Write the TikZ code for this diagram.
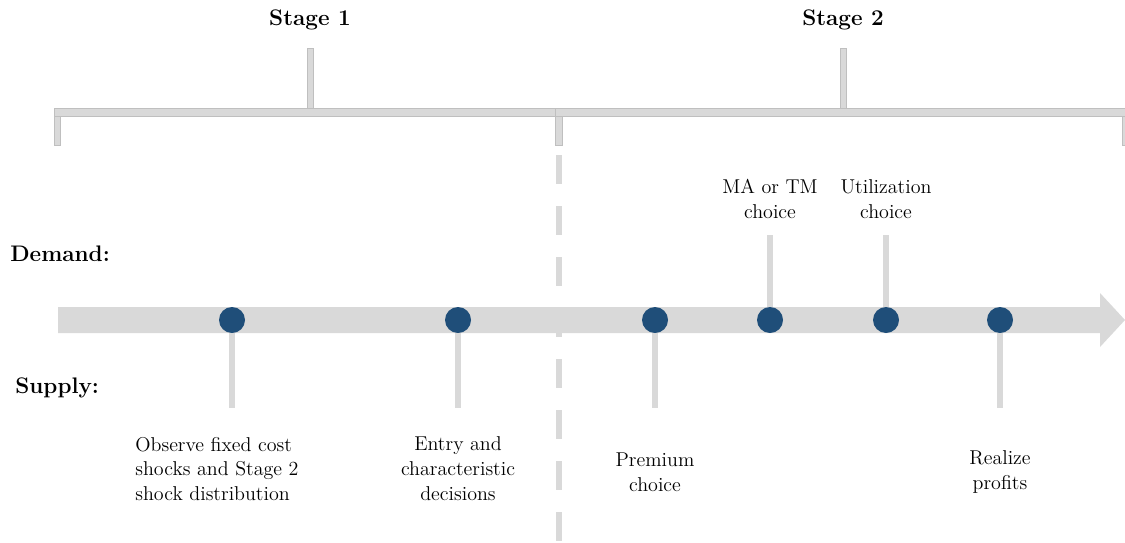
\documentclass[tikz,border=0pt]{standalone}
\definecolor{bargray}{HTML}{D9D9D9}
\definecolor{edgegray}{HTML}{BFBFBF}
\definecolor{dotblue}{HTML}{1F4E79}

\begin{document}
\begin{tikzpicture}[
    font=\fontsize{11.4}{14.2}\selectfont,
    dot/.style={circle, fill=dotblue, minimum size=0.52cm, inner sep=0pt},
    stem/.style={draw=bargray, line width=0.12cm},
    bracebar/.style={fill=bargray, draw=edgegray, line width=0.4pt},
    evtext/.style={align=center, inner sep=0pt},
    heading/.style={font=\fontsize{12.8}{15}\selectfont\bfseries, inner sep=0pt}
  ]
  \useasboundingbox (0,0) rectangle (22.5,10.84);

  % stage brackets
  \filldraw[bracebar] (1.08,8.52) rectangle (11.12,8.68);
  \filldraw[bracebar] (11.1,8.52) rectangle (22.6,8.68);
  \filldraw[bracebar] (1.08,7.94) rectangle (1.2,8.52);
  \filldraw[bracebar] (11.1,7.94) rectangle (11.24,8.52);
  \filldraw[bracebar] (22.44,7.94) rectangle (22.56,8.52);
  \filldraw[bracebar] (6.14,8.68) rectangle (6.26,9.88);
  \filldraw[bracebar] (16.8,8.68) rectangle (16.92,9.88);
  \node[heading] (stage1) at (6.2,10.44) {Stage 1};
  \node[heading] (stage2) at (16.86,10.44) {Stage 2};

  % split between the stages
  \draw[bargray, line width=0.12cm, dash pattern=on 0.58cm off 0.44cm] (11.18,7.74) -- (11.18,0);

  % time line
  \fill[bargray] (1.16,4.18) -- (22,4.18) -- (22,3.9) -- (22.5,4.44)
    -- (22,4.98) -- (22,4.7) -- (1.16,4.7) -- cycle;

  \node[dot] (d1) at (4.64,4.44) {};
  \node[dot] (d2) at (9.16,4.44) {};
  \node[dot] (d3) at (13.1,4.44) {};
  \node[dot] (d4) at (15.4,4.44) {};
  \node[dot] (d5) at (17.72,4.44) {};
  \node[dot] (d6) at (20.0,4.44) {};

  \draw[stem] (d1) -- ++(0,-1.76);
  \draw[stem] (d2) -- ++(0,-1.76);
  \draw[stem] (d3) -- ++(0,-1.76);
  \draw[stem] (d6) -- ++(0,-1.76);
  \draw[stem] (d4) -- ++(0,1.7);
  \draw[stem] (d5) -- ++(0,1.7);

  \node[heading, anchor=west] (demand) at (0.2,5.76) {Demand:};
  \node[heading, anchor=west] (supply) at (0.3,3.08) {Supply:};

  \node[evtext, align=left, anchor=west] (observe) at (2.7,1.46)
    {Observe fixed cost\\shocks and Stage 2\\shock distribution};
  \node[evtext] (entry) at (9.16,1.46) {Entry and\\characteristic\\decisions};
  \node[evtext] (premium) at (13.1,1.4) {Premium\\choice};
  \node[evtext] (realize) at (20.0,1.4) {Realize\\profits};
  \node[evtext] (matm) at (15.4,6.86) {MA or TM\\choice};
  \node[evtext] (util) at (17.72,6.86) {Utilization\\choice};
\end{tikzpicture}
\end{document}
